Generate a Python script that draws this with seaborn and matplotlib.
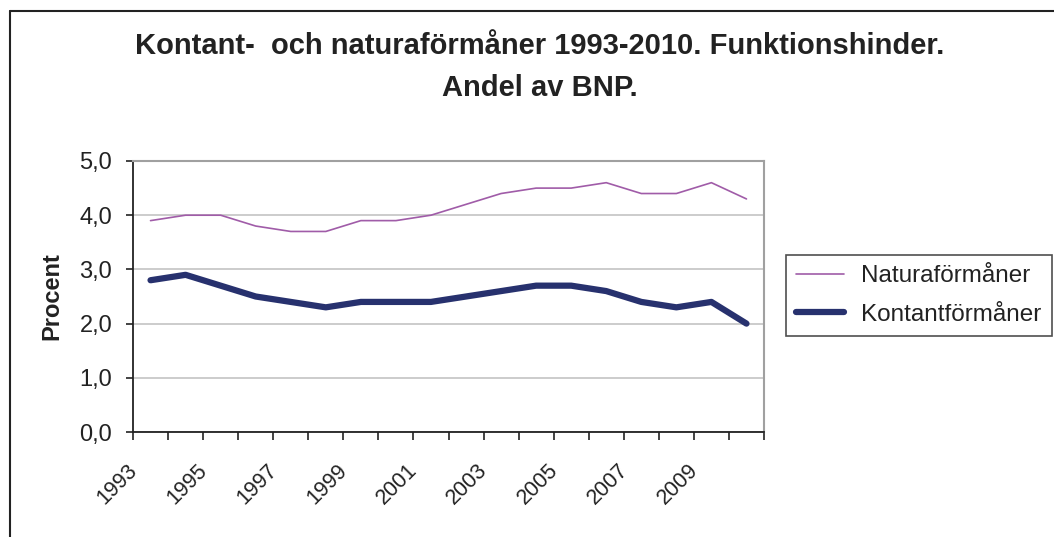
import matplotlib
matplotlib.use("Agg")
import matplotlib.pyplot as plt
import matplotlib.lines as mlines
import matplotlib.transforms as mtransforms
import numpy as np
import pandas as pd
import seaborn as sns

years = list(range(1993, 2011))
natura = [3.9, 4.0, 4.0, 3.8, 3.7, 3.7, 3.9, 3.9, 4.0, 4.2, 4.4, 4.5, 4.5, 4.6, 4.4, 4.4, 4.6, 4.3]
kontant = [2.8, 2.9, 2.7, 2.5, 2.4, 2.3, 2.4, 2.4, 2.4, 2.5, 2.6, 2.7, 2.7, 2.6, 2.4, 2.3, 2.4, 2.0]
yticks = [0.0, 1.0, 2.0, 3.0, 4.0, 5.0]
ytick_labels = ["0,0", "1,0", "2,0", "3,0", "4,0", "5,0"]
xtick_years = [1993, 1995, 1997, 1999, 2001, 2003, 2005, 2007, 2009]
title = "Kontant-  och naturaförmåner 1993-2010. Funktionshinder.\nAndel av BNP."
series_names = ["Naturaförmåner", "Kontantförmåner"]

sns.set_style("white")
plt.rcParams["font.family"] = ["Liberation Sans", "DejaVu Sans"]
txt = "#222222"

W, H = 1054, 537
fig = plt.figure(figsize=(W / 100, H / 100), dpi=100)
ax = fig.add_axes([133 / W, 1 - 432 / H, (764 - 133) / W, (432 - 161) / H])

df = pd.DataFrame({"År": years, series_names[0]: natura, series_names[1]: kontant})
sns.lineplot(data=df, x="År", y=series_names[0], ax=ax, color="#a05ca8", linewidth=1.2)
sns.lineplot(data=df, x="År", y=series_names[1], ax=ax, color="#27316e", linewidth=4.5)

ax.set_xlim(1992.5, 2010.5)
ax.set_ylim(0, 5)
ax.set_yticks(yticks)
ax.set_yticklabels(ytick_labels, fontsize=17, color=txt)
ax.yaxis.grid(True, color="#c8c8c8", linewidth=1.3)
ax.set_axisbelow(True)

ax.set_xticks(xtick_years)
ax.set_xticklabels([str(y) for y in xtick_years], rotation=45, ha="right", va="top",
                   rotation_mode="anchor", fontsize=15.5, color=txt)
ax.set_xticks(np.arange(1992.5, 2011, 1.0), minor=True)
ax.tick_params(axis="x", which="major", length=0, pad=0, bottom=True)
ax.tick_params(axis="x", which="minor", length=6, width=1.2, direction="out",
               color="#222222", bottom=True)
ax.tick_params(axis="y", which="major", length=5, width=1.2, direction="out",
               color="#222222", pad=10, left=True)
off = mtransforms.ScaledTranslation(-0.24, -0.28, fig.dpi_scale_trans)
for lbl in ax.get_xticklabels():
    lbl.set_transform(lbl.get_transform() + off)

ax.set_xlabel("")
ax.set_ylabel("Procent", fontsize=17, fontweight="bold", color=txt)
ax.yaxis.set_label_coords((63 - 133) / 631, 0.5)

for s in ["left", "bottom"]:
    ax.spines[s].set_color("#222222")
    ax.spines[s].set_linewidth(1.3)
for s in ["top", "right"]:
    ax.spines[s].set_visible(True)
    ax.spines[s].set_color("#a0a0a0")
    ax.spines[s].set_linewidth(1.5)

fig.text(540 / W, 1 - 67 / H, title, ha="center", va="center", fontsize=21,
         fontweight="bold", color=txt, linespacing=1.63)

handles = [mlines.Line2D([], [], color="#a05ca8", linewidth=1.2),
           mlines.Line2D([], [], color="#27316e", linewidth=4.5)]
leg = fig.legend(handles, series_names, loc="upper left",
                 bbox_to_anchor=(786 / W, 1 - 255 / H), fontsize=17.5,
                 frameon=True, fancybox=False, handlelength=1.95,
                 borderpad=0.42, labelspacing=0.68, handletextpad=0.72,
                 borderaxespad=0)
leg.get_frame().set_edgecolor("#222222")
leg.get_frame().set_linewidth(1.2)
for t in leg.get_texts():
    t.set_color(txt)

# chart border (cropped outer frame)
fig.add_artist(mlines.Line2D([10 / W, 10 / W], [0, 1 - 11 / H], transform=fig.transFigure,
                             color="#222222", linewidth=1.5))
fig.add_artist(mlines.Line2D([10 / W, 1], [1 - 11 / H, 1 - 11 / H], transform=fig.transFigure,
                             color="#222222", linewidth=1.5))

fig.savefig("out.png", dpi=100)
